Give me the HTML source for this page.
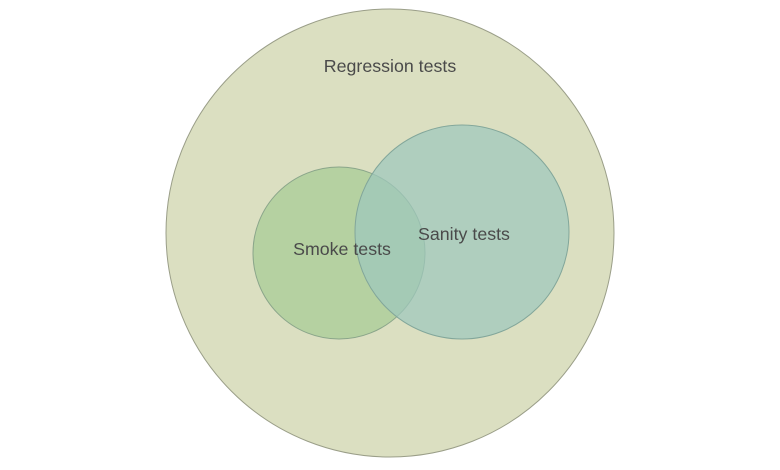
<!DOCTYPE html>
<html><head><style>html,body{margin:0;padding:0;background:#fff;width:780px;height:470px;overflow:hidden}</style></head>
<body>
<svg width="780" height="470" viewBox="0 0 780 470" xmlns="http://www.w3.org/2000/svg">
<circle cx="390" cy="233" r="224" fill="#dbdfc1" stroke="#9a9e88" stroke-width="1"/>
<circle cx="339" cy="253" r="86" fill="#b5d1a1" stroke="#8aa58a" stroke-width="1"/>
<circle cx="462" cy="232" r="107" fill="#9ec8bc" fill-opacity="0.72" stroke="#82a69a" stroke-width="1"/>
<g font-family="Liberation Sans, sans-serif" font-size="17.8" fill="#4a4a4a" text-anchor="middle">
<text x="390" y="72">Regression tests</text>
<text x="342" y="255">Smoke tests</text>
<text x="464" y="240">Sanity tests</text>
</g>
</svg>
</body></html>
